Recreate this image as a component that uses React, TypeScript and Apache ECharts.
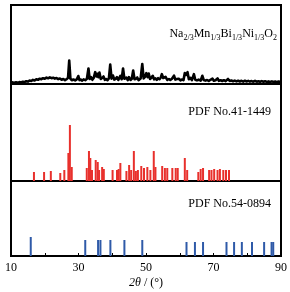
import React, { useEffect, useRef } from 'react';
import * as echarts from 'echarts';

// ---- text ----
const SAMPLE_PARTS: [string, string][] = [
  ['Na', '2/3'],
  ['Mn', '1/3'],
  ['Bi', '1/3'],
  ['Ni', '1/3'],
  ['O', '2'],
];
const REF1_LABEL = 'PDF No.41-1449';
const REF2_LABEL = 'PDF No.54-0894';
const X_LABELS = [10, 30, 50, 70, 90];
const X_NAME_ITALIC = '2θ';
const X_NAME_REST = ' / (°)';

// ---- data: [2θ, intensity] ----
const samplePattern: [number, number][] = [
  [10, 1.3], [10.5, 1.6], [11, 1.2], [11.5, 1.7], [12, 1.3], [12.5, 1.9], [13, 1.5], [13.5, 2.3],
  [14, 1.9], [14.5, 2.8], [15, 2.4], [15.5, 3.4], [16, 3.0], [16.5, 4.1], [17, 3.6], [17.5, 4.7],
  [18, 4.2], [18.5, 5.3], [19, 4.8], [19.5, 5.8], [20, 5.2], [20.5, 6.4], [21, 5.7], [21.5, 6.6],
  [22, 5.8], [22.5, 6.3], [23, 5.4], [23.5, 5.9], [24, 4.9], [24.5, 5.4], [25, 4.3], [25.5, 5.0],
  [26, 3.9], [26.5, 4.8], [26.9, 6.2], [27.25, 23.5], [27.6, 5.4], [28, 3.8], [28.5, 4.5], [29, 3.6],
  [29.5, 4.7], [29.95, 8.0], [30.3, 3.9], [30.7, 4.4], [31.1, 3.4], [31.5, 4.6], [32, 3.8], [32.5, 5.2],
  [32.95, 15.5], [33.3, 5.0], [33.7, 7.0], [34.1, 4.2], [34.5, 6.0], [34.95, 11.8], [35.3, 7.5], [35.6, 10.2],
  [35.9, 6.8], [36.2, 11.5], [36.6, 5.0], [37, 6.0], [37.4, 7.5], [37.8, 4.2], [38.2, 5.0], [38.6, 3.8],
  [39.0, 5.5], [39.4, 19.5], [39.8, 5.4], [40.2, 8.5], [40.6, 4.4], [41.0, 5.2], [41.4, 6.8], [41.8, 4.0],
  [42.4, 8.2], [42.8, 4.8], [43.2, 15.5], [43.6, 5.2], [44.2, 6.5], [44.6, 3.9], [44.95, 6.8], [45.4, 4.0],
  [45.8, 5.3], [46.2, 13.5], [46.6, 4.8], [47.0, 5.0], [47.4, 6.5], [47.8, 3.8], [48.4, 5.4], [48.9, 20.0],
  [49.3, 5.5], [49.7, 7.0], [50.1, 10.8], [50.5, 6.8], [50.8, 10.5], [51.2, 5.0], [51.6, 6.2], [52.0, 8.2],
  [52.4, 4.6], [52.8, 5.6], [53.2, 4.2], [53.6, 5.8], [54.0, 4.8], [54.4, 6.5], [54.7, 9.8], [55.1, 6.0],
  [55.8, 7.2], [56.3, 4.0], [56.8, 5.0], [57.2, 4.0], [57.7, 5.2], [58.3, 8.3], [58.7, 4.4], [59.2, 4.9],
  [59.7, 5.3], [60.2, 3.6], [60.7, 4.5], [61.1, 3.8], [61.5, 11.0], [61.9, 9.0], [62.3, 11.8], [62.7, 4.8],
  [63.2, 6.2], [63.6, 3.8], [64.2, 9.8], [64.6, 4.2], [65.1, 3.6], [65.6, 4.4], [66.2, 3.4], [66.7, 8.2],
  [67.1, 4.0], [67.6, 3.4], [68.1, 4.0], [68.6, 3.0], [69.1, 4.2], [69.7, 5.4], [70.1, 3.2], [70.6, 3.8],
  [71.2, 5.6], [71.6, 3.2], [72.1, 3.8], [72.6, 3.0], [73.1, 3.8], [73.6, 2.9], [74.3, 5.0], [74.8, 3.0],
  [75.3, 3.5], [75.8, 2.7], [76.3, 3.4], [76.8, 2.6], [77.3, 3.3], [77.8, 2.5], [78.3, 3.2], [78.8, 2.4],
  [79.3, 3.3], [79.8, 2.5], [80.3, 3.1], [80.8, 2.4], [81.3, 2.9], [81.8, 2.3], [82.3, 3.2], [82.8, 2.3],
  [83.3, 2.8], [83.8, 2.2], [84.3, 2.9], [84.8, 2.2], [85.3, 2.7], [85.8, 2.1], [86.3, 2.6], [86.8, 2.0],
  [87.3, 2.6], [87.8, 2.0], [88.3, 2.5], [88.8, 1.9], [89.3, 2.4], [90, 2.0],
];

const ref1Lines: [number, number][] = [
  [16.8, 9], [19.8, 9], [21.8, 10], [24.6, 8], [25.8, 11], [27.0, 28], [27.45, 56], [28.0, 14],
  [32.45, 13], [33.1, 30], [33.5, 23], [34.0, 11], [35.1, 21], [35.7, 19], [36.1, 11], [37.0, 14],
  [37.5, 12], [40.1, 11], [41.4, 11], [41.9, 12], [42.4, 18], [44.2, 10], [45.0, 16], [45.6, 11],
  [46.4, 30], [47.0, 10], [47.6, 11], [48.6, 15], [49.4, 13], [50.4, 14], [51.3, 11], [52.3, 30],
  [52.8, 14], [54.8, 15], [55.6, 13], [56.3, 13], [57.8, 13], [58.8, 13], [59.4, 13], [61.5, 23],
  [62.2, 11], [65.5, 9], [66.2, 12], [66.9, 13], [68.7, 11], [69.4, 11], [70.2, 12], [71.2, 11],
  [71.9, 12], [72.9, 11], [73.7, 11], [74.6, 11],
];

const ref2Lines: [number, number][] = [
  [15.85, 19], [32.0, 16], [35.8, 16], [36.5, 16], [39.45, 16], [43.6, 16], [48.9, 16],
  [62.0, 14], [64.5, 14], [66.9, 14], [73.85, 14], [76.1, 14], [78.4, 14], [81.4, 14],
  [85.0, 14], [87.2, 14], [87.7, 14],
];

const FONT = '"Liberation Serif", "Times New Roman", serif';

export default function App() {
  const ref = useRef<HTMLDivElement>(null);
  useEffect(() => {
    if (!ref.current) return;
    const chart = echarts.init(ref.current, undefined, { renderer: 'svg' });

    const formula = SAMPLE_PARTS.map(([e, s]) => `{m|${e}}{s|${s}}`).join('');

    const grids = [
      { left: 11, right: 9, top: 5, height: 79 },
      { left: 11, right: 9, top: 84, height: 97 },
      { left: 11, right: 9, top: 181, height: 75 },
    ].map((g) => ({ ...g, show: true, borderColor: '#000', borderWidth: 2, backgroundColor: 'transparent' }));

    const baseX = (i: number) => ({
      type: 'value' as const,
      gridIndex: i,
      min: 10,
      max: 90,
      interval: 10,
      show: i === 2,
      axisLine: { show: true, lineStyle: { color: '#000', width: 2 } },
      axisTick: { show: true, inside: true, length: 3, lineStyle: { color: '#000', width: 1 } },
      splitLine: { show: false },
      axisLabel: {
        show: true,
        margin: 5,
        color: '#000',
        fontSize: 12,
        fontFamily: FONT,
        formatter: (v: number) => (X_LABELS.includes(v) ? String(v) : ''),
      },
      name: i === 2 ? `{i|${X_NAME_ITALIC}}{n|${X_NAME_REST}}` : '',
      nameLocation: 'middle' as const,
      nameGap: 20,
      nameTextStyle: {
        rich: {
          i: { fontFamily: FONT, fontSize: 12, fontStyle: 'italic', color: '#000' },
          n: { fontFamily: FONT, fontSize: 12, color: '#000' },
        },
      },
    });

    const yMax = [79, 97, 75];
    const option: any = {
      animation: false,
      grid: grids,
      xAxis: [baseX(0), baseX(1), baseX(2)],
      yAxis: yMax.map((m, i) => ({
        type: 'value',
        gridIndex: i,
        min: 0,
        max: m,
        show: false,
        splitLine: { show: false },
      })),
      series: [
        {
          type: 'line',
          xAxisIndex: 0,
          yAxisIndex: 0,
          data: samplePattern,
          showSymbol: false,
          symbol: 'none',
          lineStyle: { color: '#000', width: 2.6, join: 'round' },
        },
        {
          type: 'bar',
          xAxisIndex: 1,
          yAxisIndex: 1,
          data: ref1Lines,
          barWidth: 2,
          itemStyle: { color: '#e8302c' },
        },
        {
          type: 'bar',
          xAxisIndex: 2,
          yAxisIndex: 2,
          data: ref2Lines,
          barWidth: 2,
          itemStyle: { color: '#2f5aa8' },
        },
      ],
      graphic: [
        {
          type: 'text',
          x: 277,
          y: 27,
          style: {
            text: formula,
            align: 'right',
            verticalAlign: 'top',
            fill: '#000',
            rich: {
              m: { fontFamily: FONT, fontSize: 12, lineHeight: 12, verticalAlign: 'top', fill: '#000' },
              s: { fontFamily: FONT, fontSize: 8, lineHeight: 14, verticalAlign: 'bottom', fill: '#000' },
            },
          },
        },
        {
          type: 'text',
          x: 271,
          y: 111,
          style: { text: REF1_LABEL, fontFamily: FONT, fontSize: 12, fill: '#000', align: 'right', verticalAlign: 'middle' },
        },
        {
          type: 'text',
          x: 271,
          y: 203,
          style: { text: REF2_LABEL, fontFamily: FONT, fontSize: 12, fill: '#000', align: 'right', verticalAlign: 'middle' },
        },
      ],
    };
    chart.setOption(option);
    return () => chart.dispose();
  }, []);

  return <div ref={ref} style={{ position: 'fixed', left: 0, top: 0, width: 290, height: 292 }} />;
}
